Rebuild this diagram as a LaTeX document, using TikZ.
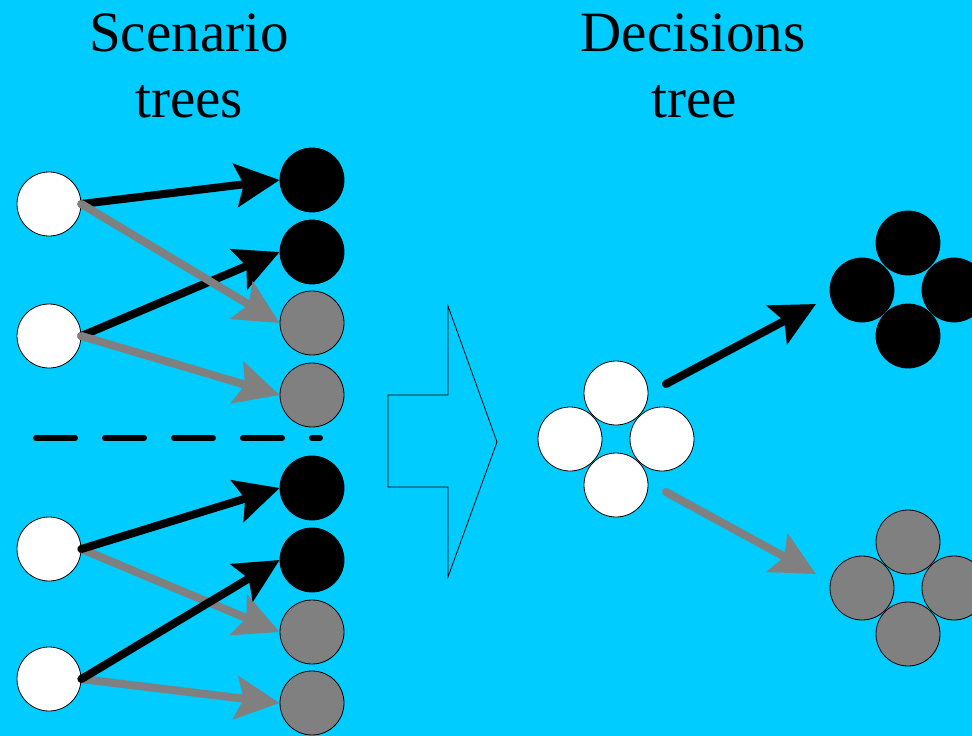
\documentclass[tikz,border=0pt]{standalone}
\usepackage{fontspec}
\setmainfont{Liberation Serif}
\usetikzlibrary{arrows.meta}
\definecolor{skyblue}{HTML}{00CCFF}
\definecolor{midgray}{HTML}{808080}

\begin{document}
\begin{tikzpicture}[x=1pt,y=-1pt,
  ball/.style={circle,minimum size=64pt,inner sep=0pt,draw=black,line width=0.8pt},
  wball/.style={ball,fill=white},
  bball/.style={ball,fill=black},
  gball/.style={ball,fill=midgray},
  link/.style={line width=8pt,line cap=round,-{Stealth[length=44pt,width=43pt,inset=8pt]}},
  blink/.style={link,draw=black},
  glink/.style={link,draw=midgray},
  title/.style={font=\fontsize{57}{66}\selectfont,anchor=base,inner sep=0pt}]

% background and page frame
\fill[skyblue] (0,0) rectangle (972,736);
\useasboundingbox (0,0) rectangle (972,736);

% headings
\node[title] (sc1) at (189,51) {Scenario};
\node[title] (sc2) at (189,117) {trees};
\node[title] (dt1) at (693,51) {Decisions};
\node[title] (dt2) at (694,117) {tree};

% scenario trees: roots
\node[wball] (w1) at (49,204) {};
\node[wball] (w2) at (49,336) {};
\node[wball] (w3) at (49,549) {};
\node[wball] (w4) at (49,679) {};

% scenario trees: leaves
\node[bball] (b1) at (312,180) {};
\node[bball] (b2) at (312,252) {};
\node[gball] (g1) at (312,323) {};
\node[gball] (g2) at (312,395) {};
\node[bball] (b3) at (312,488) {};
\node[bball] (b4) at (312,560) {};
\node[gball] (g3) at (312,632) {};
\node[gball] (g4) at (312,703) {};

% upper group of branches
\draw[blink] (w1.east) -- (b1.west);
\draw[blink] (w2.east) -- (b2.west);
\draw[glink] (w1.east) -- (g1.west);
\draw[glink] (w2.east) -- (g2.west);

% lower group of branches
\draw[glink] (w3.east) -- (g3.west);
\draw[glink] (w4.east) -- (g4.west);
\draw[blink] (w3.east) -- (b3.west);
\draw[blink] (w4.east) -- (b4.west);

% separator
\coordinate (d1) at (36,438);
\coordinate (d2) at (320,438);
\draw[line width=6pt,line cap=round,dash pattern=on 39pt off 30pt] (d1) -- (d2);

% block arrow
\draw[line width=0.8pt,line join=miter]
  (448,306) -- (497,442) -- (448,577) -- (448,487) -- (388,487)
  -- (388,395) -- (448,395) -- cycle;

% decisions tree: root cluster
\node[wball] (wt) at (616,393) {};
\node[wball] (wl) at (570,439) {};
\node[wball] (wr) at (662,439) {};
\node[wball] (wb) at (616,485) {};

% decisions tree: black cluster
\node[bball] (bt) at (908,243) {};
\node[bball] (bl) at (862,290) {};
\node[bball] (br) at (954,290) {};
\node[bball] (bb) at (908,336) {};

% decisions tree: gray cluster
\node[gball] (gt) at (908,542) {};
\node[gball] (gl) at (862,588) {};
\node[gball] (gr) at (954,588) {};
\node[gball] (gb) at (908,634) {};

% decisions tree branches
\coordinate (s1) at (666,384);
\coordinate (e1) at (816,304);
\coordinate (s2) at (666,492);
\coordinate (e2) at (816,574);
\draw[blink] (s1) -- (e1);
\draw[glink] (s2) -- (e2);
\end{tikzpicture}
\end{document}
